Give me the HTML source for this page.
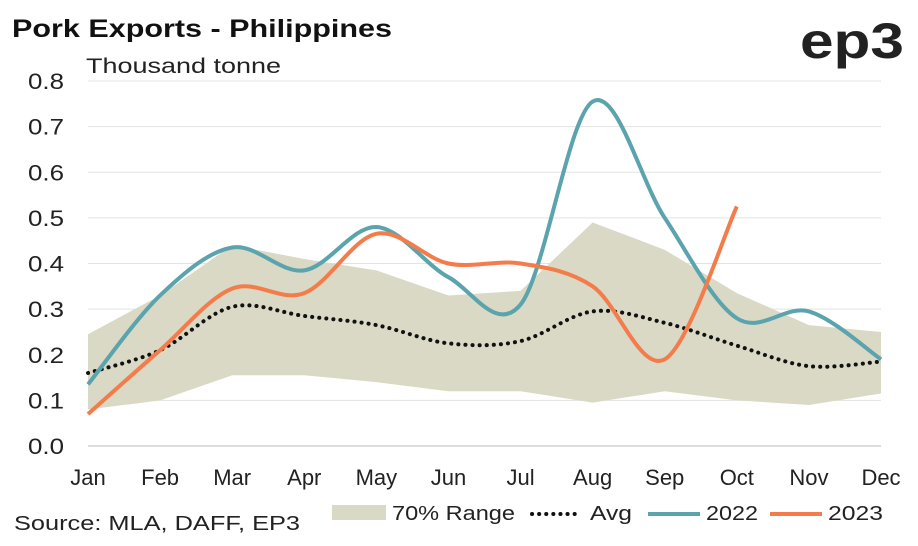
<!DOCTYPE html>
<html><head><meta charset="utf-8"><style>
body{margin:0;background:#fff;width:918px;height:541px;overflow:hidden;font-family:"Liberation Sans",sans-serif}
</style></head><body>
<svg id="c" width="918" height="541" xmlns="http://www.w3.org/2000/svg">
<text x="12" y="37" font-size="25" font-weight="bold" fill="#111" textLength="380" lengthAdjust="spacingAndGlyphs">Pork Exports - Philippines</text>
<text x="800" y="58" font-size="50" font-weight="bold" fill="#222" textLength="104" lengthAdjust="spacingAndGlyphs">ep3</text>
<text x="86" y="73" font-size="21" fill="#222" textLength="195" lengthAdjust="spacingAndGlyphs">Thousand tonne</text>
<text x="14" y="530" font-size="20" fill="#222" textLength="286" lengthAdjust="spacingAndGlyphs">Source: MLA, DAFF, EP3</text>
<g id="grid"></g><g id="marks"></g><g id="axes"></g>
<g>
<rect x="332" y="505" width="54" height="15" fill="#d9d9c6"/>
<text x="392" y="520" font-size="20" fill="#222" textLength="123" lengthAdjust="spacingAndGlyphs">70% Range</text>
<line x1="532" y1="514" x2="580" y2="514" stroke="#111" stroke-width="4" stroke-dasharray="0.1 7" stroke-linecap="round"/>
<text x="590" y="520" font-size="20" fill="#222" textLength="42" lengthAdjust="spacingAndGlyphs">Avg</text>
<line x1="648" y1="514" x2="700" y2="514" stroke="#5ba3ad" stroke-width="4"/>
<text x="706" y="520" font-size="20" fill="#222" textLength="52" lengthAdjust="spacingAndGlyphs">2022</text>
<line x1="770" y1="514" x2="822" y2="514" stroke="#f47c4a" stroke-width="4"/>
<text x="828" y="520" font-size="20" fill="#222" textLength="55" lengthAdjust="spacingAndGlyphs">2023</text>
</g>
</svg>
<script>
const months=["Jan","Feb","Mar","Apr","May","Jun","Jul","Aug","Sep","Oct","Nov","Dec"];
const yTicks=[0,0.1,0.2,0.3,0.4,0.5,0.6,0.7,0.8];
const s2022=[0.135,0.33,0.435,0.385,0.48,0.37,0.31,0.755,0.5,0.28,0.295,0.19];
const s2023=[0.07,0.21,0.345,0.335,0.465,0.40,0.40,0.35,0.19,0.525];
const avg=[0.16,0.21,0.305,0.285,0.265,0.225,0.23,0.295,0.27,0.22,0.175,0.185];
const rangeHi=[0.245,0.33,0.44,0.41,0.385,0.33,0.34,0.49,0.43,0.335,0.265,0.25];
const rangeLo=[0.08,0.10,0.155,0.155,0.14,0.12,0.12,0.095,0.12,0.10,0.09,0.115];
const NS="http://www.w3.org/2000/svg";
const x=i=>88+i*(881-88)/11, y=v=>446-v*(446-81)/0.8;
function mk(tag,attrs,parent){const e=document.createElementNS(NS,tag);for(const k in attrs)e.setAttribute(k,attrs[k]);document.getElementById(parent).appendChild(e);return e;}
yTicks.forEach(t=>{
 if(t>0){const g=mk("line",{x1:88,x2:881,y1:y(t),y2:y(t),stroke:"#e3e3e3","stroke-width":1},"grid");
 
 }
 const l=mk("text",{x:28,y:y(t)+8,"font-size":22,fill:"#222",textLength:36,lengthAdjust:"spacingAndGlyphs"},"axes");l.textContent=t.toFixed(1);
 
 
});
const base=mk("line",{x1:88,x2:881,y1:y(0),y2:y(0),stroke:"#bbb","stroke-width":1},"axes");


months.forEach((m,i)=>{const t=mk("text",{x:x(i),y:485,"font-size":22,fill:"#222","text-anchor":"middle"},"axes");t.textContent=m;
 
 });
function smooth(vals){const p=vals.map((v,i)=>[x(i),y(v)]);let d=`M${p[0][0]},${p[0][1]}`;
 for(let i=0;i<p.length-1;i++){const p0=p[i-1]||p[i],p1=p[i],p2=p[i+1],p3=p[i+2]||p2;
 d+=` C${p1[0]+(p2[0]-p0[0])/6},${p1[1]+(p2[1]-p0[1])/6} ${p2[0]-(p3[0]-p1[0])/6},${p2[1]-(p3[1]-p1[1])/6} ${p2[0]},${p2[1]}`;}return d;}
let rd=rangeHi.map((v,i)=>(i?"L":"M")+x(i)+","+y(v)).join(" ");
for(let i=rangeLo.length-1;i>=0;i--)rd+=" L"+x(i)+","+y(rangeLo[i]);
const area=mk("path",{d:rd+"Z",fill:"#d9d9c6"},"marks");


const a=mk("path",{d:smooth(avg),fill:"none",stroke:"#111","stroke-width":4,"stroke-dasharray":"0.1 7","stroke-linecap":"round"},"marks");


const l22=mk("path",{d:smooth(s2022),fill:"none",stroke:"#5ba3ad","stroke-width":4},"marks");


const l23=mk("path",{d:smooth(s2023),fill:"none",stroke:"#f47c4a","stroke-width":4},"marks");


</script>
</body></html>
